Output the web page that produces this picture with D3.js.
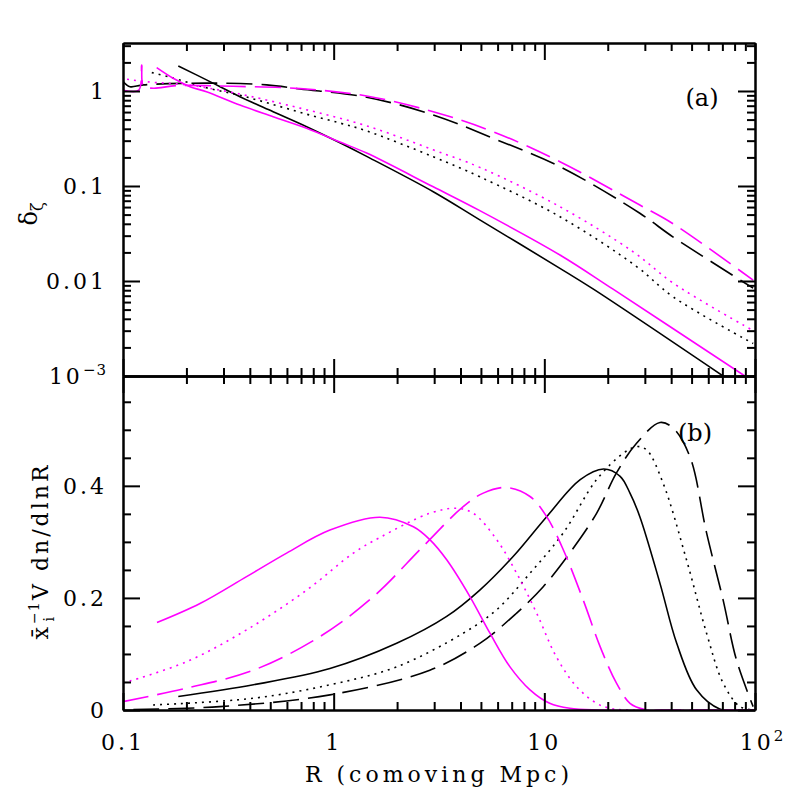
<!DOCTYPE html>
<html>
<head>
<meta charset="utf-8">
<script src="https://cdn.jsdelivr.net/npm/d3@7/dist/d3.min.js"></script>
<style>
  body { margin: 0; background: #fff; }
  svg text { font-family: "DejaVu Serif", serif; fill: #000; }
  .axis path, .axis line { stroke: #000; stroke-width: 2; }
  .curve { fill: none; stroke-width: 1.6; }
</style>
</head>
<body>
<svg id="chart" width="797" height="797"></svg>
<script>
// panel (a): delta_zeta vs R  -- [R (Mpc), delta]
var blackSolidA = [[0.183, 1.83], [0.249, 1.31], [0.359, 0.87], [0.516, 0.605], [0.744, 0.421],
  [1.071, 0.285], [1.434, 0.205], [2.97, 0.087], [4.94, 0.044], [11.86, 0.0136], [17.1, 0.0082], [70.5, 0.001]];
var blackDottedA = [[0.137, 1.56], [0.167, 1.40], [0.249, 1.08], [0.359, 0.90], [0.516, 0.72], [0.744, 0.57],
  [1.071, 0.46], [1.434, 0.38], [2.97, 0.203], [4.94, 0.125], [11.86, 0.0475], [27.4, 0.0142], [40.9, 0.0068], [98, 0.0022]];
var blackDashedA = [[0.1003, 1.25], [0.108, 1.11], [0.1248, 1.16], [0.2494, 1.21], [0.481, 1.16],
  [0.692, 1.05], [1.434, 0.86], [2.97, 0.56], [5.71, 0.318], [11.86, 0.16], [28.4, 0.0516], [40.9, 0.029], [98, 0.0084]];
var magentaSolidA = [[0.1445, 1.76], [0.173, 1.36], [0.208, 1.11], [0.249, 0.98], [0.359, 0.71],
  [0.516, 0.536], [0.744, 0.405], [1.071, 0.29], [1.434, 0.222], [2.97, 0.098], [4.94, 0.055],
  [11.86, 0.0188], [21.2, 0.0082], [89.5, 0.001]];
var magentaDottedA = [[0.1045, 1.33], [0.1296, 1.25], [0.2, 1.16], [0.333, 0.96], [0.692, 0.66],
  [1.434, 0.43], [2.97, 0.24], [4.94, 0.157], [11.86, 0.0605], [26.4, 0.0203], [40.9, 0.0095], [98, 0.0030]];
var magentaDashedA = [[0.1003, 1.02], [0.1187, 1.02], [0.1227, 1.88], [0.125, 1.13], [0.139, 1.07],
  [0.18, 1.14], [0.333, 1.12], [0.692, 1.06], [1.434, 0.886], [2.97, 0.605], [5.71, 0.373],
  [11.86, 0.18], [28.4, 0.063], [40.9, 0.04], [98, 0.0102]];

// panel (b): xbar_i^-1 V dn/dlnR vs R
var blackSolidB = [[0.183, 0.024], [0.416, 0.045], [0.96, 0.074], [1.99, 0.119], [3.44, 0.167],
  [4.94, 0.214], [7.11, 0.274], [10.26, 0.345], [14.8, 0.411], [19.1, 0.43], [22.9, 0.417],
  [25.5, 0.387], [28.4, 0.345], [35.4, 0.226], [42.5, 0.119], [52.8, 0.036], [68, 0.002], [100, 0]];
var blackDottedB = [[0.139, 0.009], [0.416, 0.021], [0.96, 0.045], [1.99, 0.077], [4.12, 0.137],
  [5.94, 0.179], [8.55, 0.244], [12.3, 0.316], [17.7, 0.411], [23.7, 0.458], [27.4, 0.47], [30.6, 0.464],
  [36.6, 0.405], [47.3, 0.268], [58.9, 0.137], [70.6, 0.048], [84.8, 0.006], [100, 0]];
var blackDashedB = [[0.112, 0.001], [0.288, 0.006], [0.96, 0.027], [2.86, 0.071], [4.94, 0.119],
  [7.39, 0.173], [9.88, 0.22], [13.2, 0.28], [17.7, 0.351], [22, 0.423], [27.4, 0.476], [35.4, 0.513],
  [40.9, 0.503], [49.1, 0.452], [58.9, 0.316], [70.6, 0.196], [81.7, 0.089], [98, 0.006]];
var magentaSolidB = [[0.145, 0.156], [0.232, 0.19], [0.386, 0.238], [0.598, 0.28], [0.96, 0.321],
  [1.66, 0.344], [2.39, 0.327], [2.86, 0.304], [3.44, 0.268], [4.44, 0.202], [5.52, 0.137],
  [6.87, 0.077], [8.55, 0.036], [10.6, 0.012], [13.2, 0.003], [18, 0], [100, 0]];
var magentaDottedB = [[0.1, 0.048], [0.2, 0.086], [0.386, 0.143], [0.745, 0.214], [1.24, 0.28],
  [1.66, 0.308], [2.86, 0.351], [3.84, 0.36], [4.6, 0.351], [5.94, 0.304], [7.39, 0.244],
  [9.19, 0.173], [11.4, 0.095], [14.2, 0.042], [17.7, 0.012], [20.5, 0.003], [25, 0], [100, 0]];
var magentaDashedB = [[0.1, 0.015], [0.2, 0.039], [0.416, 0.071], [0.861, 0.131], [1.54, 0.202],
  [2.66, 0.292], [4.12, 0.363], [5.13, 0.387], [6.62, 0.397], [8.55, 0.381], [10.26, 0.345],
  [12.3, 0.286], [15.3, 0.196], [18.4, 0.113], [22, 0.048], [25.5, 0.012], [30, 0.001], [40, 0], [100, 0]];

// tick labels
var xTicks = [0.1, 1, 10, 100];
var xTickLabels = [["0.1", ""], ["1", ""], ["10", ""], ["10", "2"]];
var yTicksA = [0.001, 0.01, 0.1, 1];
var yTickLabelsA = [["10", "\u22123"], ["0.01", ""], ["0.1", ""], ["1", ""]];
var yTicksB = [0, 0.2, 0.4];
var yTickLabelsB = ["0", "0.2", "0.4"];

var svg = d3.select("#chart"),
  padLeft = 123, padRight = 755, padTop = 43, padMid = 376, padBottom = 710;

var x = d3.scaleLog().domain([0.1, 100]).range([padLeft, padRight]);
var yA = d3.scaleLog().domain([0.001, 3.2]).range([padMid, padTop]);
var yB = d3.scaleLinear().domain([0, 0.596]).range([padBottom, padMid]);

var minorX = [];
[0.1, 1, 10].forEach(function(dec) {
  for (var k = 2; k <= 9; k++) minorX.push(k * dec);
});
var minorA = [];
[0.001, 0.01, 0.1].forEach(function(dec) {
  for (var k = 2; k <= 9; k++) minorA.push(k * dec);
});
minorA.push(2, 3);
var minorB = [0.05, 0.1, 0.15, 0.25, 0.3, 0.35, 0.45, 0.5, 0.55];

// clip paths
var defs = svg.append("defs");
defs.append("clipPath").attr("id", "clipA").append("rect")
  .attr("x", padLeft).attr("y", padTop).attr("width", padRight - padLeft).attr("height", padMid - padTop);
defs.append("clipPath").attr("id", "clipB").append("rect")
  .attr("x", padLeft).attr("y", padMid).attr("width", padRight - padLeft).attr("height", padBottom - padMid);

var styles = {
  solid: null,
  dotted: "2,5",
  dashed: "26,9"
};

function drawCurve(data, y, clip, color, style) {
  var line = d3.line()
    .x(function(d) { return x(d[0]); })
    .y(function(d) { return y(d[1]); })
    .curve(d3.curveCatmullRom.alpha(0.5));
  svg.append("path")
    .datum(data)
    .attr("class", "curve")
    .attr("clip-path", "url(#" + clip + ")")
    .attr("stroke", color)
    .attr("stroke-dasharray", styles[style])
    .attr("d", line);
}

var black = "#000", magenta = "#ff00ff";
drawCurve(blackSolidA, yA, "clipA", black, "solid");
drawCurve(blackDottedA, yA, "clipA", black, "dotted");
drawCurve(blackDashedA, yA, "clipA", black, "dashed");
drawCurve(magentaSolidA, yA, "clipA", magenta, "solid");
drawCurve(magentaDottedA, yA, "clipA", magenta, "dotted");
drawCurve(magentaDashedA, yA, "clipA", magenta, "dashed");

drawCurve(blackSolidB, yB, "clipB", black, "solid");
drawCurve(blackDottedB, yB, "clipB", black, "dotted");
drawCurve(blackDashedB, yB, "clipB", black, "dashed");
drawCurve(magentaSolidB, yB, "clipB", magenta, "solid");
drawCurve(magentaDottedB, yB, "clipB", magenta, "dotted");
drawCurve(magentaDashedB, yB, "clipB", magenta, "dashed");

// axes: ticks point inward, major 17px, minor 8px
function addAxis(axisFn, scale, major, minor, transform) {
  svg.append("g").attr("class", "axis").attr("transform", transform)
    .call(axisFn(scale).tickValues(major).tickSizeInner(-17).tickSizeOuter(0).tickFormat(""));
  svg.append("g").attr("class", "axis").attr("transform", transform)
    .call(axisFn(scale).tickValues(minor).tickSizeInner(-8).tickSizeOuter(0).tickFormat(""));
}

// panel (a)
addAxis(d3.axisTop, x, xTicks, minorX, "translate(0," + padTop + ")");
addAxis(d3.axisBottom, x, xTicks, minorX, "translate(0," + padMid + ")");
addAxis(d3.axisLeft, yA, yTicksA, minorA, "translate(" + padLeft + ",0)");
addAxis(d3.axisRight, yA, yTicksA, minorA, "translate(" + padRight + ",0)");
// panel (b)
addAxis(d3.axisTop, x, xTicks, minorX, "translate(0," + padMid + ")");
addAxis(d3.axisBottom, x, xTicks, minorX, "translate(0," + padBottom + ")");
addAxis(d3.axisLeft, yB, yTicksB, minorB, "translate(" + padLeft + ",0)");
addAxis(d3.axisRight, yB, yTicksB, minorB, "translate(" + padRight + ",0)");

var fs = 22, ls = 3;

// x tick labels
xTicks.forEach(function(v, i) {
  var t = svg.append("text")
    .attr("x", x(v) + (xTickLabels[i][1] ? 8 : 0))
    .attr("y", 750)
    .attr("text-anchor", "middle")
    .attr("font-size", fs)
    .attr("letter-spacing", ls)
    .text(xTickLabels[i][0]);
  if (xTickLabels[i][1]) {
    t.append("tspan").attr("dy", -9).attr("font-size", 15).text(xTickLabels[i][1]);
  }
});

// y tick labels, panel (a)
yTicksA.forEach(function(v, i) {
  var t = svg.append("text")
    .attr("x", 107)
    .attr("y", yA(v))
    .attr("dy", "0.36em")
    .attr("text-anchor", "end")
    .attr("font-size", fs)
    .attr("letter-spacing", ls)
    .text(yTickLabelsA[i][0]);
  if (yTickLabelsA[i][1]) {
    t.append("tspan").attr("dy", -9).attr("font-size", 15).attr("letter-spacing", 1).text(yTickLabelsA[i][1]);
  }
});

// y tick labels, panel (b)
yTicksB.forEach(function(v, i) {
  svg.append("text")
    .attr("x", 107)
    .attr("y", yB(v))
    .attr("dy", "0.36em")
    .attr("text-anchor", "end")
    .attr("font-size", fs)
    .attr("letter-spacing", ls)
    .text(yTickLabelsB[i]);
});

// axis titles
svg.append("text")
  .attr("x", (padLeft + padRight) / 2)
  .attr("y", 782)
  .attr("text-anchor", "middle")
  .attr("font-size", fs)
  .attr("letter-spacing", 4)
  .text("R (comoving Mpc)");

var tA = svg.append("text")
  .attr("transform", "translate(37,214) rotate(-90)")
  .attr("text-anchor", "middle")
  .attr("font-size", 24);
tA.append("tspan").text("\u03b4");
tA.append("tspan").attr("dy", 6).attr("font-size", 16).text("\u03b6");

var tB = svg.append("text")
  .attr("transform", "translate(48,551) rotate(-90)")
  .attr("text-anchor", "middle")
  .attr("font-size", fs)
  .attr("letter-spacing", ls);
tB.append("tspan").text("x\u0304");
tB.append("tspan").attr("dy", -9).attr("font-size", 14).attr("letter-spacing", 1).text("\u22121");
tB.append("tspan").attr("dx", -20).attr("dy", 15).attr("font-size", 14).text("i");
tB.append("tspan").attr("dx", 14).attr("dy", -6).text("V dn/dlnR");

// panel letters
svg.append("text").attr("x", 702).attr("y", 106).attr("text-anchor", "middle")
  .attr("font-size", 24).attr("font-family", "DejaVu Sans").text("(a)");
svg.append("text").attr("x", 695).attr("y", 441).attr("text-anchor", "middle")
  .attr("font-size", 24).text("(b)");
</script>
</body>
</html>
